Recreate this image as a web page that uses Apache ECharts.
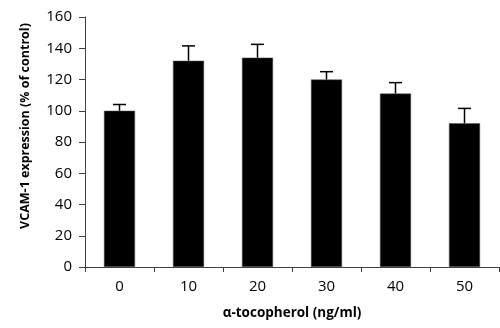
<!DOCTYPE html>
<html><head><meta charset="utf-8">
<script src="https://cdn.jsdelivr.net/npm/echarts@6/dist/echarts.min.js"></script>
<style>html,body{margin:0;padding:0;background:#fff}#c{width:500px;height:328px}</style>
</head><body><div id="c"></div>
<script>
const categories = ['0','10','20','30','40','50'];
const values = [100, 132, 134, 120, 111, 92];
const errors = [4, 9.5, 8.5, 5, 7, 9.5];
const yTicks = [0,20,40,60,80,100,120,140,160];
const xTitle = '\u03b1-tocopherol (ng/ml)';
const yTitle = 'VCAM-1 expression (% of control)';

const chart = echarts.init(document.getElementById('c'), null, {renderer:'canvas'});
const font = '"Open Sans", "Liberation Sans", sans-serif';
chart.setOption({
  animation:false,
  grid:{left:85, right:1, top:17, bottom:61},
  xAxis:{
    type:'category', data:categories,
    axisLine:{lineStyle:{color:'#404040', width:1}},
    axisTick:{show:true, length:5, alignWithLabel:false, lineStyle:{color:'#404040'}},
    axisLabel:{color:'#000', fontSize:15, fontFamily:font, margin:12},
    name:xTitle, nameLocation:'middle', nameGap:39,
    nameTextStyle:{color:'#000', fontSize:13.5, fontWeight:'bold', fontFamily:font}
  },
  yAxis:{
    type:'value', min:0, max:160, interval:20,
    axisLine:{show:true, lineStyle:{color:'#404040', width:1}},
    axisTick:{show:true, length:6, inside:false, lineStyle:{color:'#404040'}},
    splitLine:{show:false},
    axisLabel:{color:'#000', fontSize:15, fontFamily:font, margin:13}
  },
  graphic:[{
    type:'text', x:25, y:126, rotation:Math.PI/2,
    style:{text:yTitle, fill:'#000', font:'bold 12.5px ' + font, align:'center', verticalAlign:'middle'}
  }],
  series:[
    {type:'bar', data:values, barWidth:'45%', itemStyle:{color:'#000', borderColor:'#555', borderWidth:0.5}, z:2},
    {type:'custom', z:3,
     data: values.map((v,i)=>[i, v, v+errors[i]]),
     renderItem:function(params, api){
       const b = api.coord([api.value(0), api.value(1)]);
       const t = api.coord([api.value(0), api.value(2)]);
       const hw = 6.5;
       return {type:'group', children:[
         {type:'line', shape:{x1:b[0], y1:b[1], x2:t[0], y2:t[1]}, style:{stroke:'#000', lineWidth:1.5}},
         {type:'line', shape:{x1:t[0]-hw, y1:t[1], x2:t[0]+hw, y2:t[1]}, style:{stroke:'#000', lineWidth:1.5}}
       ]};
     }}
  ]
});
</script></body></html>
